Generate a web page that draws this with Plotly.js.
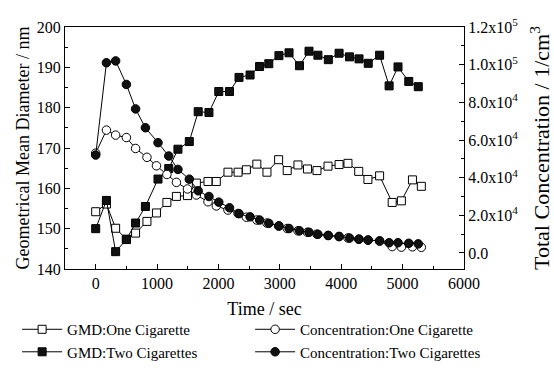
<!DOCTYPE html>
<html><head><meta charset="utf-8">
<script src="https://cdn.plot.ly/plotly-3.0.1.min.js"></script>
<style>body{margin:0;background:#fff}#c{width:554px;height:370px}</style>
</head><body><div id="c"></div>
<script>
// Time (sec)
const timeOne = [0, 175, 325, 500, 650, 835, 990, 1160, 1315, 1495, 1640, 1830, 1965, 2155, 2320, 2455, 2625, 2790, 2980, 3120, 3295, 3450, 3605, 3785, 3965, 4110, 4285, 4435, 4625, 4830, 4980, 5160, 5305];
const timeTwo = [0, 175, 325, 500, 650, 810, 1015, 1190, 1340, 1525, 1670, 1845, 2005, 2180, 2335, 2515, 2670, 2820, 2985, 3150, 3320, 3475, 3620, 3790, 3965, 4135, 4290, 4440, 4625, 4780, 4925, 5100, 5255];
// GMD (nm), left axis
const gmdOne = [154.2, 156.1, 150.1, 147.4, 148.9, 151.8, 153.9, 156.5, 158, 158.2, 161.3, 161.7, 161.7, 164, 164, 164.6, 166, 164, 167.1, 164.4, 165.8, 164.8, 164.4, 165.5, 165.9, 166.2, 164.2, 162.2, 163.1, 156.5, 156.9, 162.1, 160.5];
const gmdTwo = [150, 157, 144.3, 147.3, 151.4, 155.5, 162.3, 164.9, 169.7, 171.6, 179, 178.8, 184, 184, 187.5, 188.1, 190.2, 190.9, 192.9, 193.6, 190.4, 194, 193, 191.9, 193.5, 192.6, 192.1, 191, 193, 185.4, 190.1, 186.5, 185.2];
// Total concentration (1/cm3), right axis
const concOne = [53000, 65250, 62600, 61300, 55500, 50800, 46300, 41700, 37500, 34000, 30800, 27200, 25000, 22800, 21000, 19000, 17500, 15900, 14300, 13000, 11800, 11000, 10000, 9300, 8700, 8000, 7300, 6800, 6300, 3400, 3100, 3300, 3000];
const concTwo = [52000, 101000, 102000, 89500, 76500, 66500, 58600, 51500, 44400, 39200, 33000, 30000, 27000, 24000, 20900, 19200, 17500, 15750, 14400, 13000, 11750, 11000, 9900, 9300, 8800, 7900, 7350, 6900, 6450, 5460, 5460, 5150, 4850];
const names = ['GMD:One Cigarette', 'Concentration:One Cigarette', 'GMD:Two Cigarettes', 'Concentration:Two Cigarettes'];
const rightTickVals = [0, 20000, 40000, 60000, 80000, 100000, 120000];
const rightTickText = ['0.0', '2.0x10<sup>4</sup>', '4.0x10<sup>4</sup>', '6.0x10<sup>4</sup>', '8.0x10<sup>4</sup>', '1.0x10<sup>5</sup>', '1.2x10<sup>5</sup>'];

const F = 'Liberation Serif, Times New Roman, serif';
function tr(x, y, name, sym, fill, axis) {
  return {x: x, y: y, name: name, yaxis: axis, type: 'scatter', mode: 'lines+markers',
    line: {color: '#000', width: 1},
    marker: {symbol: sym, size: sym === 'square' ? 8 : 8.5, color: fill, line: {color: '#000', width: 1}}};
}
const data = [
  tr(timeOne, gmdOne, names[0], 'square', '#fff', 'y'),
  tr(timeOne, concOne, names[1], 'circle', '#fff', 'y2'),
  tr(timeTwo, gmdTwo, names[2], 'square', '#111', 'y'),
  tr(timeTwo, concTwo, names[3], 'circle', '#111', 'y2')
];
const axCommon = {showline: true, linecolor: '#000', linewidth: 1, ticks: 'inside', ticklen: 5, tickcolor: '#000',
  showgrid: false, zeroline: false, tickfont: {family: F, size: 16, color: '#000'}};
const layout = {
  width: 554, height: 370, margin: {l: 65, r: 90, t: 27, b: 101, autoexpand: false},
  paper_bgcolor: '#fff', plot_bgcolor: '#fff', font: {family: F, color: '#000'},
  showlegend: true,
  xaxis: Object.assign({}, axCommon, {range: [-500, 6000], tickmode: 'linear', tick0: 0, dtick: 1000, mirror: true,
    minor: {ticks: 'inside', dtick: 500, ticklen: 3, tickcolor: '#000'},
    title: {text: 'Time / sec', font: {family: F, size: 18}, standoff: 11}}),
  yaxis: Object.assign({}, axCommon, {range: [140, 200], tickmode: 'linear', tick0: 140, dtick: 10, mirror: true,
    minor: {ticks: 'inside', dtick: 5, ticklen: 3, tickcolor: '#000'},
    title: {text: 'Geometrical Mean Diameter / nm', font: {family: F, size: 18}, standoff: 2}}),
  yaxis2: Object.assign({}, axCommon, {overlaying: 'y', side: 'right', range: [-8500, 120000],
    tickmode: 'array', tickvals: rightTickVals, ticktext: rightTickText,
    minor: {ticks: 'inside', dtick: 10000, tick0: 0, ticklen: 3, tickcolor: '#000'},
    title: {text: 'Total Concentration / 1/cm<sup>3</sup>', font: {family: F, size: 22}, standoff: 16}}),
  legend: {orientation: 'h', x: -0.12, y: -0.182, yanchor: 'top', xanchor: 'left',
    entrywidth: 178, entrywidthmode: 'pixels', font: {family: F, size: 15, color: '#000'},
    itemwidth: 40, tracegroupgap: 0, bgcolor: 'rgba(0,0,0,0)'}
};
Plotly.newPlot('c', data, layout, {displayModeBar: false, staticPlot: true});
</script></body></html>
